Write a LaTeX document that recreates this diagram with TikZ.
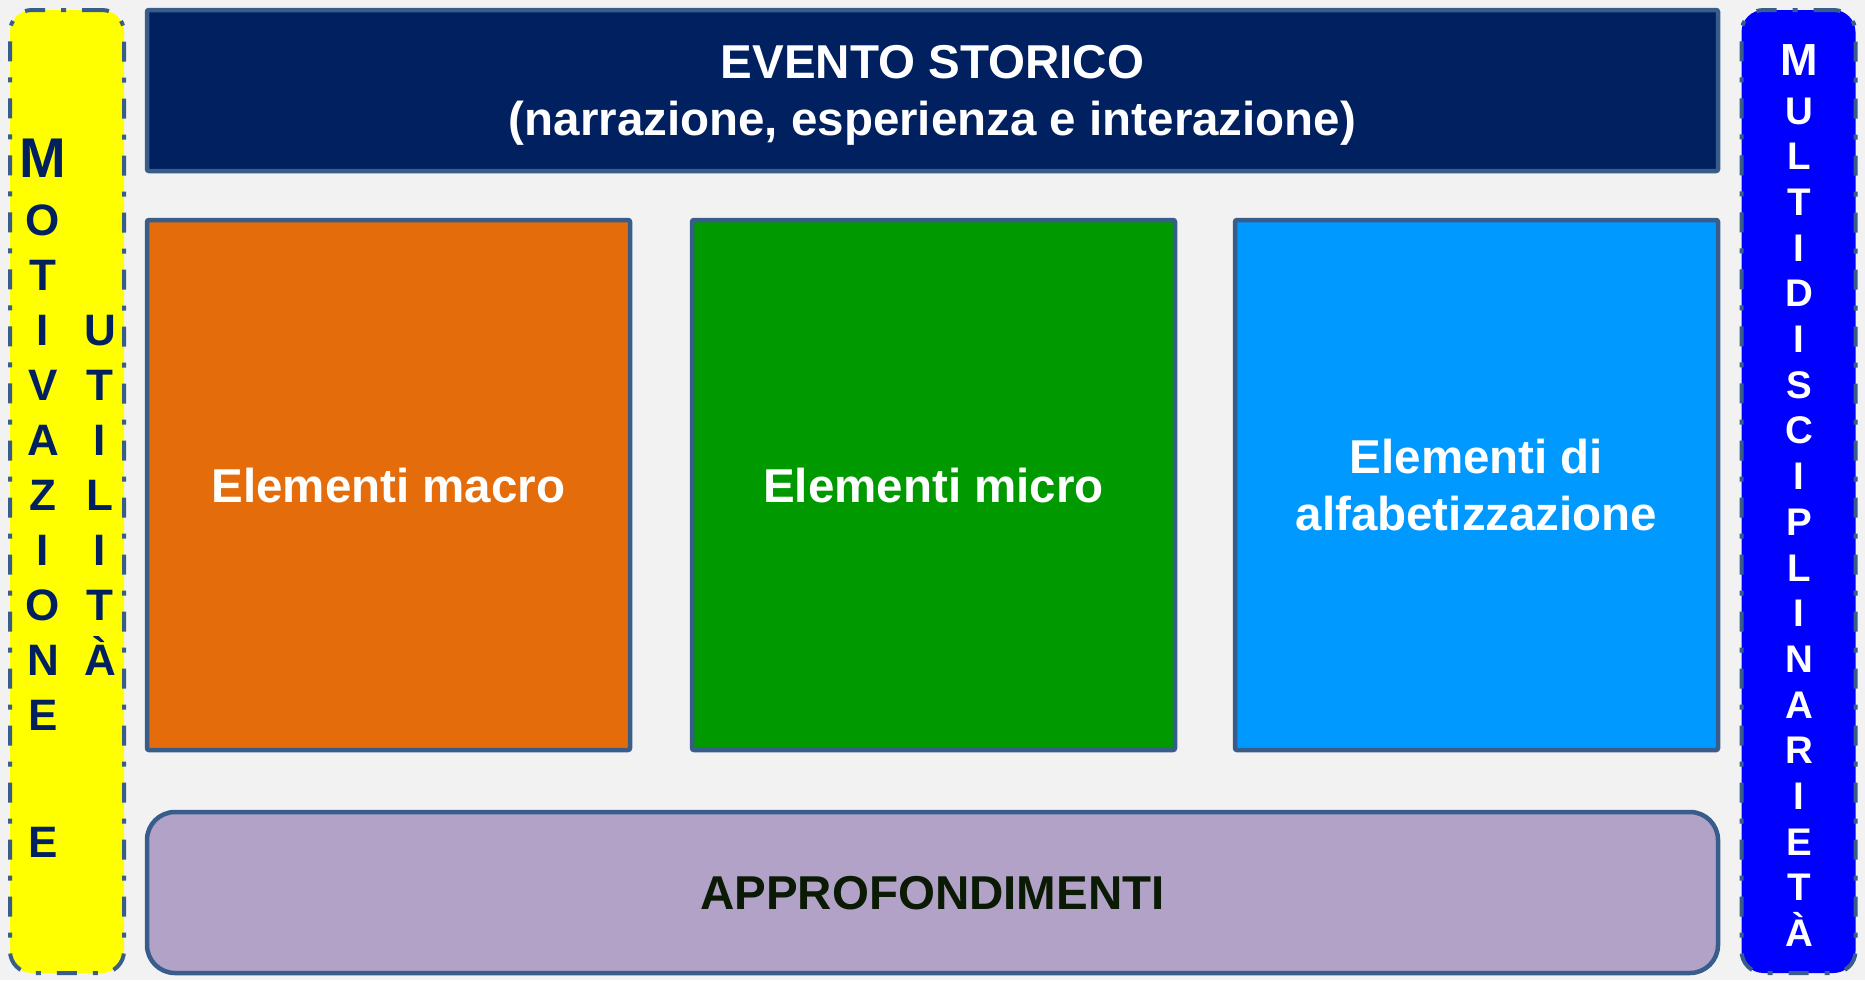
\documentclass[tikz,border=0pt]{standalone}
\usepackage{fontspec}
\setmainfont{Liberation Sans}
\definecolor{sfondo}{HTML}{F2F2F2}
\definecolor{bordo}{HTML}{385D8A}
\definecolor{notte}{HTML}{002060}
\definecolor{arancio}{HTML}{E46C0A}
\definecolor{verde}{HTML}{009900}
\definecolor{celeste}{HTML}{0099FF}
\definecolor{lilla}{HTML}{B2A2C7}
\definecolor{giallo}{HTML}{FFFF00}
\definecolor{blu}{HTML}{0000FF}
\definecolor{scuro}{HTML}{0A1A05}

\begin{document}
\begin{tikzpicture}[x=1pt,y=-1pt,
  box/.style={draw=bordo, line width=4.5pt, rounded corners=2pt, inner sep=0pt,
    text=white, align=center, text depth=0pt,
    font=\bfseries\fontsize{47.5}{57}\selectfont},
  lato/.style={draw=bordo, line width=4pt, rounded corners=22pt,
    dash pattern=on 20pt off 16pt on 5pt off 16pt,
    minimum width=114pt, minimum height=963pt, inner sep=0pt},
  lettera/.style={anchor=base, inner sep=0pt,
    font=\bfseries\fontsize{44}{55}\selectfont},
  lettera2/.style={anchor=base, inner sep=0pt, text=white,
    font=\bfseries\fontsize{38.5}{46}\selectfont}]
\useasboundingbox (0,0) rectangle (1865,980);
\fill[sfondo] (0,0) rectangle (1865,980);
\node[box, fill=notte, minimum width=1571pt, minimum height=161pt] (evento) at (932.5,90.5)
  {EVENTO STORICO\\(narrazione, esperienza e interazione)};
\node[box, fill=arancio, minimum width=483pt, minimum height=530pt] (macro) at (388.5,485) {Elementi macro};
\node[box, fill=verde, minimum width=483pt, minimum height=530pt] (micro) at (933.5,485) {Elementi micro};
\node[box, fill=celeste, minimum width=483pt, minimum height=530pt] (alfa) at (1476.5,485)
  {Elementi di\\alfabetizzazione};
\node[box, fill=lilla, text=scuro, rounded corners=28pt, minimum width=1571pt, minimum height=161pt] (appro) at (932.5,892.5)
  {APPROFONDIMENTI};
\node[lato, fill=giallo] (motiv) at (67,491.5) {};
\node[lato, fill=blu] (multi) at (1798.5,491.5) {};
% colonna gialla
\node[lettera, text=notte, font=\bfseries\fontsize{56}{60}\selectfont] (mot0) at (43,177) {M};
\foreach \l [count=\i] in {O,T,I,V,A,Z,I,O,N,E}
  \node[lettera, text=notte] (mot\i) at (43,{235+55*(\i-1)}) {\l};
\node[lettera, text=notte] (e) at (43,857) {E};
\foreach \l [count=\i] in {U,T,I,L,I,T,À}
  \node[lettera, text=notte] (uti\i) at (100,{345+55*(\i-1)}) {\l};
% colonna blu
\node[lettera2, font=\bfseries\fontsize{45}{50}\selectfont] (mul0) at (1799,75) {M};
\foreach \l [count=\i] in {U,L,T,I,D,I,S,C,I,P,L,I,N,A,R,I,E,T,À}
  \node[lettera2] (mul\i) at (1799,{124+45.7*(\i-1)}) {\l};
\end{tikzpicture}
\end{document}
